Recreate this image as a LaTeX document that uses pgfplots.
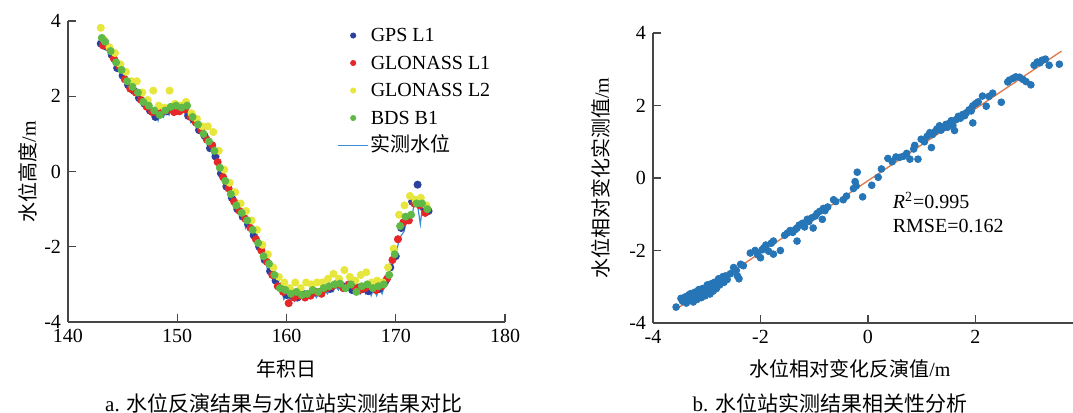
\documentclass[border=0pt]{standalone}
\usepackage{fontspec}
\setmainfont{Liberation Serif}
\newfontfamily\cjk{Noto Sans CJK SC}
\usepackage{pgfplots}
\pgfplotsset{compat=1.18}
\definecolor{gpsc}{RGB}{44,64,160}
\definecolor{gla}{RGB}{230,38,40}
\definecolor{glb}{RGB}{230,230,60}
\definecolor{bdsc}{RGB}{96,185,70}
\definecolor{obsc}{RGB}{58,140,214}
\definecolor{scat}{RGB}{38,117,183}
\definecolor{fitc}{RGB}{226,125,80}
\definecolor{axc}{RGB}{70,70,70}
\pgfplotsset{
  legend image code/.code={\draw[mark repeat=2,mark phase=2,#1] plot coordinates {(0pt,0pt) (7.5pt,0pt) (15pt,0pt)};},
  myax/.style={scale only axis, axis lines*=left,
    axis line style={axc, line width=0.7pt},
    tick style={axc, line width=0.7pt}, major tick length=3.8pt, tick align=inside,
    ticklabel style={font=\fontsize{10}{12}\selectfont},
    /pgf/number format/assume math mode=true,
    label style={font=\fontsize{10}{12}\selectfont},
    ymin=-4, ymax=4, ytick={-4,-2,0,2,4}, clip=false}
}
\begin{document}
\begin{tikzpicture}
\path[use as bounding box] (0,0) rectangle (536.5pt,206.5pt);
\begin{axis}[myax, at={(34pt,45.5pt)}, anchor=south west,
  width=218.5pt, height=150.5pt,
  xmin=140, xmax=180, xtick={140,150,...,180},
  xlabel={\cjk 年积日}, ylabel={{\cjk 水位高度}/m},
  xlabel style={at={(axis description cs:0.5,-0.156)}, anchor=center},
  ylabel style={at={(axis description cs:-0.0915,0.5)}, anchor=center},
  legend style={draw=none, fill=none, inner sep=0pt, at={(axis description cs:0.616,0.993)}, anchor=north west,
    font=\fontsize{10}{12}\selectfont, row sep=1.75pt,
    nodes={text height=8pt, text depth=2pt, inner sep=1pt}},
  legend image post style={mark size=1.3pt},
  legend cell align=left]
\addplot[only marks, mark=*, mark size=1.8pt, color=gpsc] coordinates {
(143.0,3.40) (143.5,3.32) (144.0,3.10) (144.5,2.75) (145.0,2.55) (145.5,2.30) (146.0,2.15) (146.5,1.95)
(147.0,1.80) (147.5,1.62) (148.0,1.45) (148.5,1.55) (149.0,1.60) (149.5,1.68) (150.0,1.62) (150.5,1.72)
(151.0,1.48) (151.5,1.38) (152.0,1.10) (152.5,0.95) (153.0,0.62) (153.5,0.40) (154.0,-0.05) (154.5,-0.40)
(155.0,-0.70) (155.5,-1.00) (156.0,-1.20) (156.5,-1.40) (157.0,-1.70) (157.5,-2.00) (158.0,-2.35) (158.5,-2.65)
(159.0,-2.90) (159.5,-3.05) (160.0,-3.28) (160.5,-3.30) (161.0,-3.35) (161.5,-3.25) (162.0,-3.28) (162.5,-3.22)
(163.0,-3.20) (163.5,-3.12) (164.0,-3.12) (164.5,-3.00) (165.0,-3.02) (165.5,-3.05) (166.0,-3.15) (166.5,-3.08)
(167.0,-3.12) (167.5,-3.18) (168.0,-3.05) (168.5,-3.12) (169.0,-2.95) (169.5,-2.55) (170.0,-2.25) (170.5,-1.50)
(171.0,-1.25) (171.5,-0.80) (172.0,-0.35) (172.5,-0.95) (173.0,-1.05)};
\addlegendentry{GPS L1}
\addplot[only marks, mark=*, mark size=1.8pt, color=gla] coordinates {
(143.2,3.35) (143.7,3.30) (144.2,3.00) (144.7,2.80) (145.2,2.45) (145.7,2.20) (146.2,2.10) (146.7,1.90)
(147.2,1.72) (147.7,1.58) (148.2,1.55) (148.7,1.60) (149.2,1.65) (149.7,1.58) (150.2,1.60) (150.7,1.65)
(151.2,1.45) (151.7,1.30) (152.2,1.10) (152.7,0.85) (153.2,0.70) (153.7,0.25) (154.2,-0.15) (154.7,-0.45)
(155.2,-0.80) (155.7,-1.05) (156.2,-1.25) (156.7,-1.50) (157.2,-1.80) (157.7,-2.10) (158.2,-2.40) (158.7,-2.75)
(159.2,-3.05) (159.7,-3.20) (160.2,-3.50) (160.7,-3.35) (161.2,-3.30) (161.7,-3.35) (162.2,-3.30) (162.7,-3.20)
(163.2,-3.25) (163.7,-3.10) (164.2,-3.05) (164.7,-3.00) (165.2,-3.10) (165.7,-3.00) (166.2,-3.05) (166.7,-3.15)
(167.2,-3.10) (167.7,-3.05) (168.2,-3.15) (168.7,-3.05) (169.2,-2.85) (169.7,-2.35) (170.2,-1.80) (170.7,-1.35)
(171.2,-1.30) (171.7,-0.85) (172.2,-0.90) (172.7,-1.10)};
\addlegendentry{GLONASS L1}
\addplot[only marks, mark=*, mark size=1.8pt, color=glb] coordinates {
(143.0,3.82) (143.3,3.50) (143.8,3.30) (144.3,3.15) (144.8,2.85) (145.3,2.65) (145.8,2.40) (146.3,2.40)
(146.8,2.10) (147.3,1.90) (147.8,2.15) (148.3,1.75) (148.8,1.70) (149.3,2.15) (149.8,1.80) (150.3,1.75)
(150.8,1.85) (151.3,1.55) (151.8,1.40) (152.3,1.20) (152.8,1.20) (153.3,1.05) (153.8,0.55) (154.3,0.05)
(154.8,-0.30) (155.3,-0.55) (155.8,-0.85) (156.3,-1.05) (156.8,-1.30) (157.3,-1.55) (157.8,-1.95) (158.3,-2.20)
(158.8,-2.55) (159.3,-2.80) (159.8,-2.95) (160.3,-3.10) (160.8,-2.95) (161.3,-3.10) (161.8,-2.95) (162.3,-3.00)
(162.8,-2.95) (163.3,-2.95) (163.8,-2.85) (164.3,-2.72) (164.8,-2.85) (165.3,-2.62) (165.8,-2.80) (166.3,-2.90)
(166.8,-2.75) (167.3,-2.68) (167.8,-2.95) (168.3,-2.90) (168.8,-2.95) (169.3,-2.55) (169.8,-2.05) (170.3,-1.15)
(170.8,-0.90) (171.3,-0.65) (171.8,-0.75) (172.3,-0.70) (172.8,-0.90)};
\addlegendentry{GLONASS L2}
\addplot[only marks, mark=*, mark size=1.8pt, color=bdsc] coordinates {
(143.1,3.55) (143.4,3.45) (143.9,3.20) (144.4,2.90) (144.9,2.70) (145.4,2.40) (145.9,2.25) (146.4,2.10)
(146.9,1.85) (147.4,1.75) (147.9,1.62) (148.4,1.50) (148.9,1.62) (149.4,1.72) (149.9,1.75) (150.4,1.70)
(150.9,1.75) (151.4,1.45) (151.9,1.25) (152.4,1.00) (152.9,0.80) (153.4,0.55) (153.9,0.10) (154.4,-0.25)
(154.9,-0.60) (155.4,-0.90) (155.9,-1.10) (156.4,-1.30) (156.9,-1.55) (157.4,-1.90) (157.9,-2.25) (158.4,-2.45)
(158.9,-2.75) (159.4,-3.10) (159.9,-3.15) (160.4,-3.25) (160.9,-3.20) (161.4,-3.28) (161.9,-3.25) (162.4,-3.15)
(162.9,-3.20) (163.4,-3.10) (163.9,-3.05) (164.4,-3.00) (164.9,-2.98) (165.4,-3.10) (165.9,-3.00) (166.4,-3.20)
(166.9,-3.05) (167.4,-3.00) (167.9,-3.10) (168.4,-3.05) (168.9,-3.00) (169.4,-2.75) (169.9,-2.20) (170.4,-1.45)
(170.9,-1.20) (171.4,-1.15) (171.9,-0.85) (172.4,-0.85) (172.9,-1.00)};
\addlegendentry{BDS B1}
\addplot[obsc, line width=0.6pt, no marks] coordinates {
(143.0,3.40) (143.25,3.30) (143.5,3.45) (143.75,3.15) (144.0,3.20) (144.25,2.95) (144.5,2.95) (144.75,2.65)
(145.0,2.60) (145.25,2.35) (145.5,2.40) (145.75,2.15) (146.0,2.20) (146.25,2.00) (146.5,2.05) (146.75,1.80)
(147.0,1.85) (147.25,1.65) (147.5,1.70) (147.75,1.45) (148.0,1.60) (148.25,1.35) (148.5,1.60) (148.75,1.45)
(149.0,1.65) (149.25,1.50) (149.5,1.70) (149.75,1.55) (150.0,1.70) (150.25,1.55) (150.5,1.72) (150.75,1.50)
(151.0,1.60) (151.25,1.30) (151.5,1.40) (151.75,1.15) (152.0,1.20) (152.25,0.95) (152.5,1.00) (152.75,0.70)
(153.0,0.75) (153.25,0.45) (153.5,0.45) (153.75,0.10) (154.0,0.05) (154.25,-0.30) (154.5,-0.35) (154.75,-0.65)
(155.0,-0.65) (155.25,-0.95) (155.5,-0.95) (155.75,-1.25) (156.0,-1.15) (156.25,-1.50) (156.5,-1.35) (156.75,-1.70)
(157.0,-1.60) (157.25,-2.00) (157.5,-1.95) (157.75,-2.35) (158.0,-2.30) (158.25,-2.60) (158.5,-2.55) (158.75,-2.90)
(159.0,-2.80) (159.25,-3.10) (159.5,-3.05) (159.75,-3.40) (160.0,-3.30) (160.25,-3.45) (160.5,-3.30) (160.75,-3.45)
(161.0,-3.30) (161.25,-3.40) (161.5,-3.30) (161.75,-3.40) (162.0,-3.25) (162.25,-3.35) (162.5,-3.25) (162.75,-3.35)
(163.0,-3.20) (163.25,-3.30) (163.5,-3.15) (163.75,-3.25) (164.0,-3.10) (164.25,-3.20) (164.5,-3.05) (164.75,-3.15)
(165.0,-3.00) (165.25,-3.10) (165.5,-3.00) (165.75,-3.15) (166.0,-3.05) (166.25,-3.25) (166.5,-3.10) (166.75,-3.25)
(167.0,-3.10) (167.25,-3.25) (167.5,-3.10) (167.75,-3.30) (168.0,-3.10) (168.25,-3.30) (168.5,-3.10) (168.75,-3.25)
(169.0,-3.00) (169.25,-2.90) (169.5,-2.60) (169.75,-2.45) (170.0,-2.20) (170.25,-1.90) (170.5,-1.70) (170.75,-1.60)
(171.0,-1.30) (171.25,-1.35) (171.5,-1.20) (171.75,-0.70) (172.0,-0.90) (172.25,-1.40) (172.5,-0.80) (172.75,-1.00)
(173.0,-1.15)};
\addlegendentry{\cjk 实测水位}
\end{axis}
\begin{axis}[myax, at={(326.5pt,45pt)}, anchor=south west,
  width=215pt, height=145pt,
  xmin=-4, xmax=4, xtick={-4,-2,0,2,4},
  xlabel={{\cjk 水位相对变化反演值}/m}, ylabel={{\cjk 水位相对变化实测值}/m},
  xlabel style={at={(axis description cs:0.458,-0.159)}, anchor=center},
  ylabel style={at={(axis description cs:-0.121,0.5)}, anchor=center}]
\addplot[only marks, mark=*, mark size=1.7pt, color=scat] coordinates {
(-3.57,-3.56) (-3.48,-3.32) (-3.45,-3.40) (-3.40,-3.28) (-3.38,-3.45) (-3.35,-3.35) (-3.33,-3.22) (-3.30,-3.19)
(-3.28,-3.30) (-3.25,-3.42) (-3.22,-3.15) (-3.20,-3.25) (-3.18,-3.35) (-3.15,-3.08) (-3.13,-3.20) (-3.10,-3.30)
(-3.08,-3.05) (-3.05,-3.15) (-3.03,-3.25) (-3.00,-3.10) (-2.99,-2.95) (-2.96,-3.05) (-2.94,-3.20) (-2.92,-2.92)
(-2.90,-3.00) (-2.88,-3.12) (-2.86,-2.88) (-2.84,-2.98) (-2.82,-3.05) (-2.80,-2.85) (-2.78,-2.78) (-2.76,-2.95)
(-2.74,-2.83) (-2.70,-2.72) (-2.68,-2.88) (-2.65,-2.70) (-2.62,-2.80) (-2.56,-2.64) (-2.50,-2.47) (-2.45,-2.55)
(-2.43,-2.70) (-2.40,-2.78) (-2.37,-2.38) (-2.32,-2.42) (-2.19,-2.07) (-2.10,-2.00) (-2.05,-2.12) (-2.00,-2.20)
(-1.97,-1.98) (-1.94,-1.93) (-1.90,-1.85) (-1.85,-2.02) (-1.80,-1.80) (-1.76,-1.74) (-1.76,-2.10) (-1.63,-2.00)
(-1.55,-1.58) (-1.50,-1.52) (-1.45,-1.45) (-1.40,-1.50) (-1.35,-1.42) (-1.32,-1.38) (-1.32,-1.74) (-1.28,-1.30)
(-1.22,-1.25) (-1.18,-1.35) (-1.13,-1.14) (-1.10,-1.20) (-1.05,-1.10) (-1.02,-1.38) (-0.98,-1.05) (-0.95,-0.98)
(-0.90,-0.92) (-0.85,-1.14) (-0.83,-0.84) (-0.80,-0.90) (-0.75,-0.80) (-0.64,-0.60) (-0.60,-0.65) (-0.46,-0.60)
(-0.40,-0.50) (-0.27,-0.29) (-0.22,-0.22) (-0.20,0.16) (-0.24,-0.10) (-0.10,-0.52) (0.07,-0.20) (0.19,0.02)
(0.25,0.25) (0.37,0.54) (0.45,0.45) (0.52,0.58) (0.59,0.57) (0.66,0.60) (0.72,0.68) (0.78,0.52)
(0.85,0.80) (0.87,0.90) (0.93,0.52) (0.99,1.07) (1.05,1.00) (1.10,1.15) (1.15,1.25) (1.18,0.84)
(1.20,1.20) (1.25,1.28) (1.28,1.35) (1.33,1.44) (1.36,1.32) (1.40,1.38) (1.45,1.48) (1.48,1.40)
(1.52,1.52) (1.55,1.58) (1.58,1.45) (1.61,1.31) (1.64,1.61) (1.68,1.70) (1.72,1.65) (1.76,1.75)
(1.80,1.72) (1.83,1.80) (1.88,1.88) (1.92,1.85) (1.95,1.99) (1.95,1.52) (2.00,2.05) (2.05,2.10)
(2.13,2.26) (2.20,1.98) (2.25,2.25) (2.32,2.34) (2.48,2.09) (2.60,2.65) (2.63,2.70) (2.70,2.75)
(2.75,2.79) (2.82,2.78) (2.88,2.72) (2.94,2.66) (3.03,2.57) (3.09,3.11) (3.15,3.20) (3.20,3.18)
(3.24,3.25) (3.30,3.28) (3.37,3.11) (3.56,3.14)};
\addplot[fitc, line width=0.7pt, no marks] coordinates {(-3.6,-3.65) (3.6,3.5)};
\node[anchor=west, font=\fontsize{10}{12}\selectfont] at (axis cs:0.33,-0.62) {\textit{R}\textsuperscript{2}=0.995};
\node[anchor=west, font=\fontsize{10}{12}\selectfont] at (axis cs:0.33,-1.32) {RMSE=0.162};
\end{axis}
\node[font=\fontsize{10.5}{12}\selectfont] at (142pt,5pt) {a. {\cjk 水位反演结果与水位站实测结果对比}};
\node[font=\fontsize{10.5}{12}\selectfont] at (415pt,5pt) {b. {\cjk 水位站实测结果相关性分析}};
\end{tikzpicture}
\end{document}
